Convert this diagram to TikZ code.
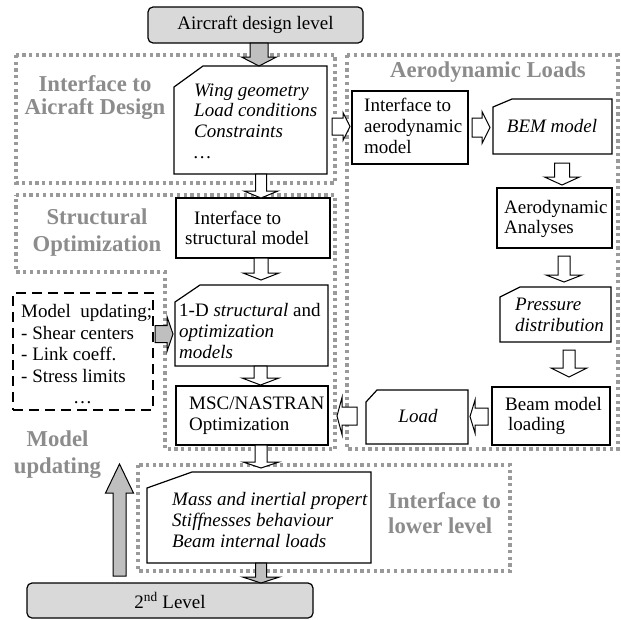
\documentclass[tikz,border=0pt]{standalone}
\usepackage{fontspec}
\setmainfont{Liberation Serif}
\usetikzlibrary{calc}
\definecolor{boxgray}{HTML}{D9D9D9}
\definecolor{arrgray}{HTML}{BFBFBF}
\definecolor{dotgray}{HTML}{9A9A9A}
\definecolor{labgray}{HTML}{8C8C8C}
\tikzset{
 boxline/.style={draw=black, line width=1.2pt, fill=white},
 bxframe/.style={inner sep=0pt, outer sep=0pt},
 rectbox/.style={bxframe, boxline},
 docbox/.style={bxframe},
 roundgray/.style={bxframe, draw=black, line width=1.2pt, fill=boxgray, rounded corners=5pt},
 txt/.style={inner sep=0pt, align=left, font=\fontsize{19}{20.7}\selectfont},
 itxt/.style={txt, font=\fontsize{19}{20.7}\selectfont\itshape},
 grplabel/.style={inner sep=0pt, align=center, text=labgray, font=\fontsize{22.7}{23}\selectfont\bfseries},
 grpline/.style={draw=dotgray, line width=3.3pt, dash pattern=on 3.3pt off 3.4pt},
 dashbox/.style={bxframe, draw=black, line width=1.2pt, dash pattern=on 10pt off 6pt},
 blk/.style={draw=black, line width=1pt, fill=white, line join=miter},
 blkgray/.style={blk, fill=arrgray},
}
\newcommand\boxnode[6]{\node[#1, minimum width={(#4)-(#2)}, minimum height={(#5)-(#3)}] (#6) at ({((#2)+(#4))/2},{((#3)+(#5))/2}) {};}
\newcommand\docframe[3]{\draw[boxline] ($(#1.north west)+(0,#3)$) -- ($(#1.north west)+(#2,0)$) -- (#1.north east) -- (#1.south east) -- (#1.south west) -- cycle;}
\newcommand\arrdown[6]{\path[#1] let \p1=(#2), \p2=(#3) in ({\x1-#4pt},\y1) -- ({\x1+#4pt},\y1) -- ({\x1+#4pt},{\y2+#6pt}) -- ({\x1+#5pt},{\y2+#6pt}) -- (\x1,\y2) -- ({\x1-#5pt},{\y2+#6pt}) -- ({\x1-#4pt},{\y2+#6pt}) -- cycle;}
\newcommand\arrup[6]{\path[#1] let \p1=(#2), \p2=(#3) in ({\x1-#4pt},\y1) -- ({\x1+#4pt},\y1) -- ({\x1+#4pt},{\y2-#6pt}) -- ({\x1+#5pt},{\y2-#6pt}) -- (\x1,\y2) -- ({\x1-#5pt},{\y2-#6pt}) -- ({\x1-#4pt},{\y2-#6pt}) -- cycle;}
\newcommand\arrright[6]{\path[#1] let \p1=(#2), \p2=(#3) in (\x1,{\y1+#4pt}) -- ({\x2-#6pt},{\y1+#4pt}) -- ({\x2-#6pt},{\y1+#5pt}) -- (\x2,\y1) -- ({\x2-#6pt},{\y1-#5pt}) -- ({\x2-#6pt},{\y1-#4pt}) -- (\x1,{\y1-#4pt}) -- cycle;}
\newcommand\arrleft[6]{\path[#1] let \p1=(#2), \p2=(#3) in (\x1,{\y1+#4pt}) -- ({\x2+#6pt},{\y1+#4pt}) -- ({\x2+#6pt},{\y1+#5pt}) -- (\x2,\y1) -- ({\x2+#6pt},{\y1-#5pt}) -- ({\x2+#6pt},{\y1-#4pt}) -- (\x1,{\y1-#4pt}) -- cycle;}
\begin{document}
\begin{tikzpicture}[x=1pt, y=-1pt]
\path[use as bounding box, fill=white] (0,0) rectangle (621,619);
% dotted groups
\draw[grpline] (16,55) rectangle (335,183);
\draw[grpline] (16,195) -- (335,195) -- (335,449) -- (165,449) -- (165,272) -- (16,272) -- cycle;
\draw[grpline] (347,55) rectangle (618,449);
\draw[grpline] (138,465) rectangle (510,571);
% boxes
\boxnode{roundgray}{148}{7}{363}{43}{top}
\boxnode{docbox}{174}{66}{327}{174}{doc1} \docframe{doc1}{29}{21}
\boxnode{rectbox}{352}{91}{468}{164}{iaero}
\boxnode{docbox}{493}{99}{612}{154}{bem} \docframe{bem}{19}{8}
\boxnode{rectbox}{497}{188}{612}{248}{aeroan}
\boxnode{docbox}{500}{287}{611}{342}{press} \docframe{press}{20}{10}
\boxnode{rectbox}{492}{387}{610}{445}{beam}
\boxnode{docbox}{366}{390}{468}{444}{load} \docframe{load}{11}{12}
\boxnode{rectbox}{176}{386}{328}{445}{msc}
\boxnode{docbox}{175}{285}{328}{366}{oned} \docframe{oned}{25}{17}
\boxnode{rectbox}{176}{198}{330}{258}{istruct}
\boxnode{docbox}{147}{472}{371}{563}{bottom} \docframe{bottom}{45}{16}
\boxnode{roundgray}{27}{583}{313}{618}{second}
\boxnode{dashbox}{13}{293}{153}{410}{dashed}
% texts
\node[txt] (topt) at (top.center) {Aircraft design level};
\node[itxt, anchor=west] (doc1t) at (194,121) {Wing geometry\\Load conditions\\Constraints\\\ldots};
\node[txt, anchor=west] (iaerot) at (364,126) {Interface to\\aerodynamic\\model};
\node[itxt] (bemt) at (552,126) {BEM model};
\node[txt, anchor=west] (aeroant) at (504,219) {Aerodynamic\\Analyses};
\node[itxt, anchor=west] (presst) at (515,315) {Pressure\\distribution};
\node[txt, anchor=west] (beamt) at (505,416) {Beam model\\\hspace*{3pt}loading};
\node[itxt] (loadt) at (418,416) {Load};
\node[txt, anchor=west] (msct) at (189,416) {MSC/NASTRAN\\Optimization};
\node[txt, anchor=west] (onedt) at (179,331) {1-D \textit{structural} and\\\textit{optimization}\\\textit{models}};
\node[txt, anchor=west] (istructt) at (185,228) {\hspace*{9pt}Interface to\\structural model};
\node[itxt, anchor=west] (bottomt) at (172,520) {Mass and inertial propert\\Stiffnesses behaviour\\Beam internal loads};
\node[txt, anchor=west, font=\fontsize{19}{21.5}\selectfont] (dashedt) at (21,354.5) {Model\ \ updating;\\- Shear centers\\- Link coeff.\\- Stress limits\\\hspace*{52pt}\ldots};
\node[txt] (secondt) at (second.center) {2\textsuperscript{nd} Level};
% group labels
\node[grplabel] (lab1) at (95,97.5) {Interface to\\Aicraft Design};
\node[grplabel] (lab2) at (488,72) {Aerodynamic Loads};
\node[grplabel] (lab3) at (97,232.5) {Structural\\[4pt]Optimization};
\node[grplabel] (lab4) at (57.5,455) {Model\\[4pt]updating};
\node[grplabel, align=left, anchor=west] (lab5) at (388,513) {Interface to\\[2pt]lower level};
% block arrows
\arrdown{blkgray}{$(top.south)+(3.5,0)$}{doc1.north}{9}{17.5}{9}
\arrdown{blk}{$(doc1.south)+(10.5,0)$}{istruct.north}{5.5}{17}{7}
\arrdown{blk}{$(istruct.south)+(8,0)$}{$(oned.north)+(0,-5)$}{7}{18}{7}
\arrdown{blk}{$(oned.south)+(9,0)$}{$(msc.north)+(0,-1)$}{6.5}{18.5}{7}
\arrdown{blk}{$(msc.south)+(9,0)$}{$(bottom.north)+(0,-4)$}{6}{18}{6}
\arrdown{blkgray}{$(bottom.south)+(2,0)$}{second.north}{5.5}{18.5}{6}
\arrdown{blk}{$(bem.south)+(9.5,9)$}{$(aeroan.north)+(0,-3)$}{7.5}{17.5}{8}
\arrdown{blk}{$(aeroan.south)+(9.5,8)$}{$(press.north)+(0,-5)$}{6}{18}{7}
\arrdown{blk}{$(press.south)+(13.5,8)$}{$(beam.north)+(0,-10)$}{6}{18}{9}
\arrright{blk}{$(doc1.east)+(5,6.5)$}{$(iaero.west)+(-2,0)$}{8.5}{14}{7}
\arrright{blk}{$(iaero.east)+(4,0)$}{$(bem.west)+(-3,0)$}{9.5}{16}{8}
\arrright{blkgray}{$(dashed.east)+(2,-17.5)$}{$(oned.west)+(-2,0)$}{8.5}{17.5}{6}
\arrleft{blk}{$(beam.west)+(-4,0.5)$}{$(load.east)+(2,0)$}{8.5}{16.5}{5}
\arrleft{blk}{$(load.west)+(-9,-1)$}{$(msc.east)+(9,0)$}{9}{18.5}{5}
\coordinate (uptip) at (119.5,464);
\arrup{blkgray}{$(second.north)+(-50.5,-7)$}{uptip}{6.5}{14}{29}
\end{tikzpicture}
\end{document}
